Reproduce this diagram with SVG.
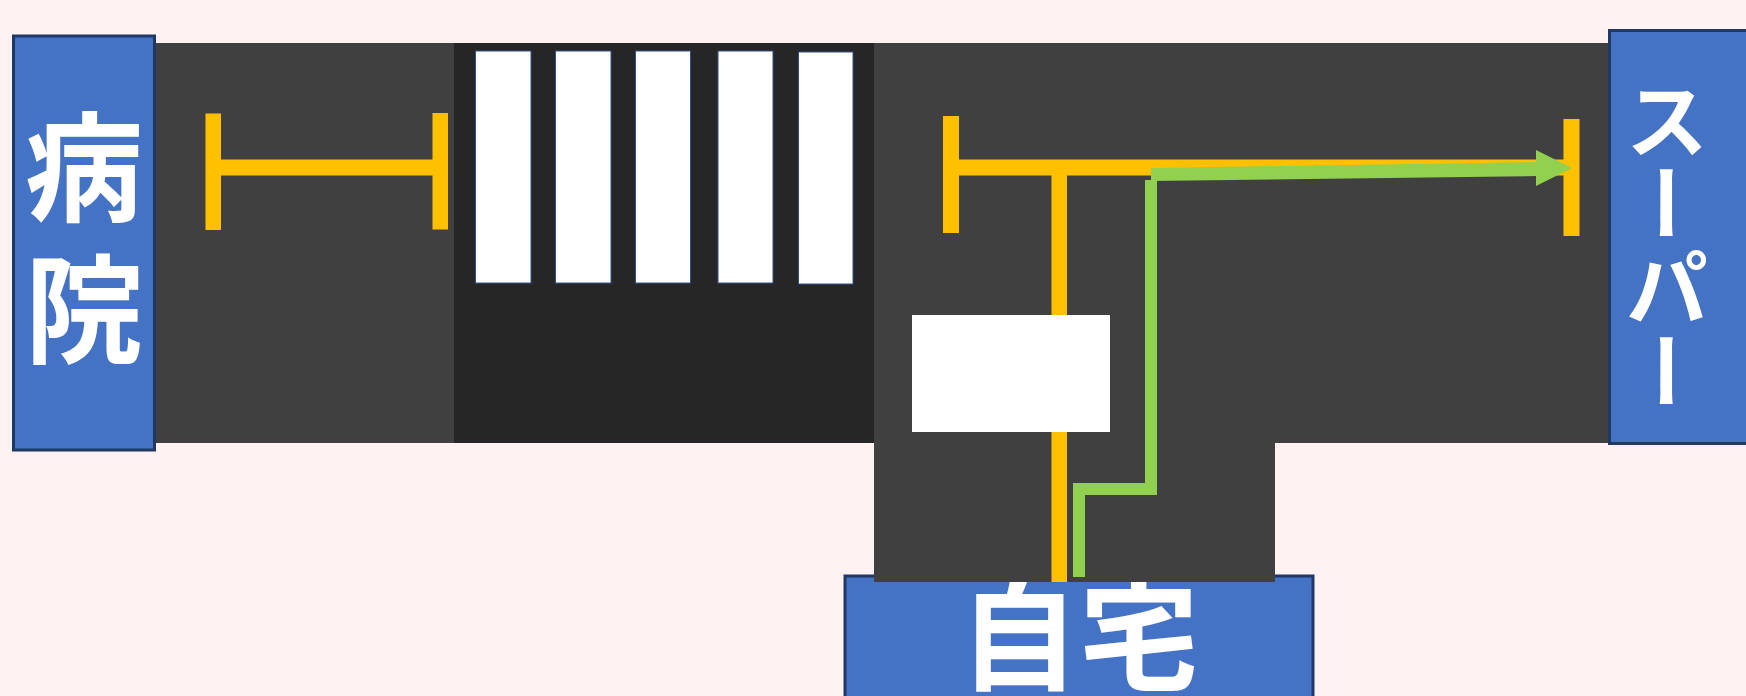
<svg xmlns="http://www.w3.org/2000/svg" width="1746" height="696" viewBox="0 0 1746 696">
<style>
.bg{fill:#FFF2F2}
.road{fill:#404040}
.cross{fill:#262626}
.stripe{fill:#FFFFFF;stroke:#2F528F;stroke-width:1}
.box{fill:#4472C4;stroke:#1F3864;stroke-width:3}
.lbl{fill:#FFFFFF;font-family:"Noto Sans CJK JP","Noto Sans CJK SC",sans-serif;font-weight:700}
.vert{writing-mode:vertical-rl}
.yel{fill:#FFC000}
.grn{fill:none;stroke:#92D050;stroke-width:12;stroke-linejoin:miter}
</style>
<rect class="bg" x="0" y="0" width="1746" height="696"/>
<g id="home">
  <rect class="box" x="845" y="576" width="468" height="200"/>
  <text class="lbl" x="1079" y="681" font-size="120" text-anchor="middle">自宅</text>
</g>
<g id="road">
  <rect class="road" x="155" y="43" width="1454" height="400"/>
  <rect class="road" x="874" y="443" width="401" height="139"/>
</g>
<g id="crosswalk">
  <rect class="cross" x="454" y="43" width="420" height="400"/>
  <rect class="stripe" x="475.5" y="51" width="55.5" height="232"/>
  <rect class="stripe" x="555.5" y="51" width="55.5" height="232"/>
  <rect class="stripe" x="635.5" y="51" width="55" height="232"/>
  <rect class="stripe" x="718" y="51" width="55" height="232"/>
  <rect class="stripe" x="798.5" y="52" width="54.5" height="232"/>
</g>
<g id="hospital">
  <rect class="box" x="13.5" y="36" width="141" height="414"/>
  <text class="lbl vert" x="84" y="108" font-size="118" letter-spacing="24">病院</text>
</g>
<g id="super">
  <rect class="box" x="1609.5" y="30.5" width="200" height="413"/>
  <text class="lbl vert" x="1667" y="78" font-size="84">スーパー</text>
</g>
<g id="connectors">
  <rect class="yel" x="205.5" y="113.5" width="15.5" height="116.5"/>
  <rect class="yel" x="432.5" y="113" width="15.5" height="116.5"/>
  <rect class="yel" x="221" y="159.5" width="212" height="16"/>
  <rect class="yel" x="943" y="116" width="16" height="117"/>
  <rect class="yel" x="1563.5" y="119" width="16" height="117"/>
  <rect class="yel" x="959" y="159.5" width="605" height="16"/>
  <rect class="yel" x="1051.5" y="175" width="15.5" height="407"/>
  <rect fill="#FFFFFF" x="912" y="315" width="198" height="117"/>
  <polyline class="grn" points="1079,577 1079,489 1151,489 1151,180"/>
  <polygon fill="#92D050" points="1151,168 1537,162 1537,176 1151,181"/>
  <polygon fill="#92D050" points="1536,150 1572,168 1536,186"/>
</g>
</svg>
